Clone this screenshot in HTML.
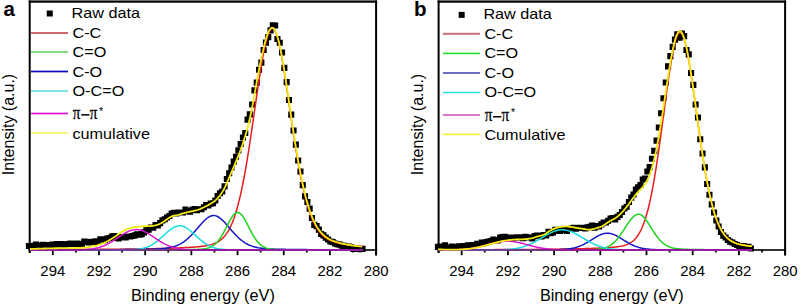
<!DOCTYPE html>
<html><head><meta charset="utf-8"><style>
html,body{margin:0;padding:0;background:#fff;width:800px;height:306px;overflow:hidden}
svg{display:block}
text{font-family:"Liberation Sans", sans-serif;fill:#000}
text.serif{font-family:"Liberation Serif",serif}
</style></head><body>
<svg width="800" height="306" viewBox="0 0 800 306">
<rect x="28.7" y="0.45" width="348.40000000000003" height="2.25" fill="#000"/>
<rect x="28.7" y="0.5" width="2" height="252.5" fill="#000"/>
<rect x="375.1" y="0.5" width="2" height="255" fill="#000"/>
<rect x="28.7" y="249.2" width="348.40000000000003" height="1.6" fill="#000"/>
<rect x="28.80" y="249.5" width="1.8" height="3" fill="#000"/>
<rect x="51.89" y="249.5" width="1.8" height="5.7" fill="#000"/>
<text x="52.79" y="275.9" text-anchor="middle" font-size="14.9">294</text>
<rect x="74.99" y="249.5" width="1.8" height="3" fill="#000"/>
<rect x="98.08" y="249.5" width="1.8" height="5.7" fill="#000"/>
<text x="98.98" y="275.9" text-anchor="middle" font-size="14.9">292</text>
<rect x="121.17" y="249.5" width="1.8" height="3" fill="#000"/>
<rect x="144.27" y="249.5" width="1.8" height="5.7" fill="#000"/>
<text x="145.17" y="275.9" text-anchor="middle" font-size="14.9">290</text>
<rect x="167.36" y="249.5" width="1.8" height="3" fill="#000"/>
<rect x="190.45" y="249.5" width="1.8" height="5.7" fill="#000"/>
<text x="191.35" y="275.9" text-anchor="middle" font-size="14.9">288</text>
<rect x="213.55" y="249.5" width="1.8" height="3" fill="#000"/>
<rect x="236.64" y="249.5" width="1.8" height="5.7" fill="#000"/>
<text x="237.54" y="275.9" text-anchor="middle" font-size="14.9">286</text>
<rect x="259.73" y="249.5" width="1.8" height="3" fill="#000"/>
<rect x="282.83" y="249.5" width="1.8" height="5.7" fill="#000"/>
<text x="283.73" y="275.9" text-anchor="middle" font-size="14.9">284</text>
<rect x="305.92" y="249.5" width="1.8" height="3" fill="#000"/>
<rect x="329.01" y="249.5" width="1.8" height="5.7" fill="#000"/>
<text x="329.91" y="275.9" text-anchor="middle" font-size="14.9">282</text>
<rect x="352.11" y="249.5" width="1.8" height="3" fill="#000"/>
<rect x="375.20" y="249.5" width="1.8" height="5.7" fill="#000"/>
<text x="376.10" y="275.9" text-anchor="middle" font-size="14.9">280</text>
<text x="202.90" y="301.2" text-anchor="middle" font-size="16.3">Binding energy (eV)</text>
<text transform="translate(13.7,124.5) rotate(-90)" x="0" y="0" text-anchor="middle" font-size="16">Intensity (a.u.)</text>
<text x="3.5" y="15.6" font-size="20.5" font-weight="bold">a</text>
<rect x="46.75" y="10.5" width="6" height="6" fill="#000"/>
<g transform="translate(71.5,18.2) scale(1.08,1)"><text x="0" y="0" font-size="15">Raw data</text></g>
<rect x="31.0" y="32.0" width="37.0" height="2" fill="#d06a72"/>
<g transform="translate(72.5,37.6) scale(1.08,1)"><text x="0" y="0" font-size="15">C-C</text></g>
<rect x="31.0" y="51.0" width="37.0" height="2" fill="#7ee07e"/>
<g transform="translate(72.5,57) scale(1.08,1)"><text x="0" y="0" font-size="15">C=O</text></g>
<rect x="31.0" y="70.65" width="37.0" height="1.7" fill="#0a0abf"/>
<g transform="translate(72.5,76.6) scale(1.08,1)"><text x="0" y="0" font-size="15">C-O</text></g>
<rect x="31.0" y="90.0" width="37.0" height="2" fill="#78e6ea"/>
<g transform="translate(72.5,96) scale(1.08,1)"><text x="0" y="0" font-size="15">O-C=O</text></g>
<rect x="31.0" y="112.65" width="37.0" height="1.7" fill="#dc14d2"/>
<g transform="translate(72.8,118.8) scale(0.92,1.08)"><text class="serif" font-size="16.5" stroke="#000" stroke-width="0.25">π</text></g>
<rect x="81.2" y="114.1" width="8.2" height="1.5" fill="#000"/>
<g transform="translate(89.7,118.8) scale(0.92,1.08)"><text class="serif" font-size="16.5" stroke="#000" stroke-width="0.25">π</text></g>
<text x="99.10000000000001" y="114.6" font-size="10.5" fill="#666">*</text>
<rect x="31.0" y="132.0" width="37.0" height="2" fill="#f5f578"/>
<g transform="translate(72.5,138.6) scale(1.08,1)"><text x="0" y="0" font-size="15">cumulative</text></g>
<path d="M25.9 243.0h6.1v6.1h-6.1zM28.2 243.2h6.1v6.1h-6.1zM30.6 242.7h6.1v6.1h-6.1zM32.9 241.6h6.1v6.1h-6.1zM35.2 242.8h6.1v6.1h-6.1zM37.5 242.4h6.1v6.1h-6.1zM39.8 241.7h6.1v6.1h-6.1zM42.1 242.3h6.1v6.1h-6.1zM44.4 242.0h6.1v6.1h-6.1zM46.7 241.9h6.1v6.1h-6.1zM49.0 241.6h6.1v6.1h-6.1zM51.3 241.9h6.1v6.1h-6.1zM53.6 241.0h6.1v6.1h-6.1zM55.9 241.3h6.1v6.1h-6.1zM58.2 241.0h6.1v6.1h-6.1zM60.5 241.6h6.1v6.1h-6.1zM62.8 241.2h6.1v6.1h-6.1zM65.1 240.9h6.1v6.1h-6.1zM67.4 240.6h6.1v6.1h-6.1zM69.7 240.8h6.1v6.1h-6.1zM72.0 240.9h6.1v6.1h-6.1zM74.3 240.6h6.1v6.1h-6.1zM76.6 241.5h6.1v6.1h-6.1zM78.9 241.1h6.1v6.1h-6.1zM81.2 238.6h6.1v6.1h-6.1zM83.5 238.8h6.1v6.1h-6.1zM85.8 239.4h6.1v6.1h-6.1zM88.1 238.9h6.1v6.1h-6.1zM90.4 238.8h6.1v6.1h-6.1zM92.7 238.2h6.1v6.1h-6.1zM95.0 238.9h6.1v6.1h-6.1zM97.3 236.3h6.1v6.1h-6.1zM99.6 236.2h6.1v6.1h-6.1zM101.9 237.2h6.1v6.1h-6.1zM104.2 235.6h6.1v6.1h-6.1zM106.5 234.9h6.1v6.1h-6.1zM108.8 233.6h6.1v6.1h-6.1zM111.1 233.1h6.1v6.1h-6.1zM113.4 235.0h6.1v6.1h-6.1zM115.7 235.3h6.1v6.1h-6.1zM118.0 234.0h6.1v6.1h-6.1zM120.3 234.1h6.1v6.1h-6.1zM122.6 234.4h6.1v6.1h-6.1zM124.9 233.4h6.1v6.1h-6.1zM127.2 233.5h6.1v6.1h-6.1zM129.5 233.0h6.1v6.1h-6.1zM131.8 232.3h6.1v6.1h-6.1zM134.1 231.3h6.1v6.1h-6.1zM136.4 231.6h6.1v6.1h-6.1zM138.7 231.1h6.1v6.1h-6.1zM141.0 229.3h6.1v6.1h-6.1zM143.3 226.8h6.1v6.1h-6.1zM145.6 226.6h6.1v6.1h-6.1zM147.9 224.5h6.1v6.1h-6.1zM150.2 224.7h6.1v6.1h-6.1zM152.5 221.9h6.1v6.1h-6.1zM154.8 222.3h6.1v6.1h-6.1zM157.1 220.1h6.1v6.1h-6.1zM159.4 217.3h6.1v6.1h-6.1zM161.7 216.2h6.1v6.1h-6.1zM164.0 214.5h6.1v6.1h-6.1zM166.3 212.9h6.1v6.1h-6.1zM168.6 210.5h6.1v6.1h-6.1zM170.9 209.7h6.1v6.1h-6.1zM173.2 210.5h6.1v6.1h-6.1zM175.5 209.5h6.1v6.1h-6.1zM177.8 209.5h6.1v6.1h-6.1zM180.1 209.4h6.1v6.1h-6.1zM182.4 206.6h6.1v6.1h-6.1zM184.7 208.0h6.1v6.1h-6.1zM187.0 208.6h6.1v6.1h-6.1zM189.3 206.8h6.1v6.1h-6.1zM191.6 206.0h6.1v6.1h-6.1zM193.9 207.2h6.1v6.1h-6.1zM196.2 206.2h6.1v6.1h-6.1zM198.5 206.2h6.1v6.1h-6.1zM200.8 204.2h6.1v6.1h-6.1zM203.1 202.1h6.1v6.1h-6.1zM205.4 202.3h6.1v6.1h-6.1zM207.7 200.6h6.1v6.1h-6.1zM210.0 200.2h6.1v6.1h-6.1zM212.3 197.5h6.1v6.1h-6.1zM214.6 193.0h6.1v6.1h-6.1zM216.9 190.2h6.1v6.1h-6.1zM219.2 188.5h6.1v6.1h-6.1zM221.5 183.3h6.1v6.1h-6.1zM223.8 175.9h6.1v6.1h-6.1zM226.1 170.2h6.1v6.1h-6.1zM228.4 164.5h6.1v6.1h-6.1zM230.7 158.6h6.1v6.1h-6.1zM233.0 153.7h6.1v6.1h-6.1zM235.3 147.3h6.1v6.1h-6.1zM237.6 141.0h6.1v6.1h-6.1zM239.9 134.5h6.1v6.1h-6.1zM242.2 129.9h6.1v6.1h-6.1zM244.5 116.6h6.1v6.1h-6.1zM246.8 111.3h6.1v6.1h-6.1zM249.1 101.4h6.1v6.1h-6.1zM251.4 87.3h6.1v6.1h-6.1zM253.7 79.6h6.1v6.1h-6.1zM256.0 66.7h6.1v6.1h-6.1zM258.3 59.6h6.1v6.1h-6.1zM260.6 46.9h6.1v6.1h-6.1zM262.9 39.6h6.1v6.1h-6.1zM265.2 34.1h6.1v6.1h-6.1zM267.5 27.3h6.1v6.1h-6.1zM269.8 22.3h6.1v6.1h-6.1zM272.1 22.4h6.1v6.1h-6.1zM274.4 36.0h6.1v6.1h-6.1zM276.7 39.7h6.1v6.1h-6.1zM279.0 49.5h6.1v6.1h-6.1zM281.3 64.8h6.1v6.1h-6.1zM283.6 79.1h6.1v6.1h-6.1zM285.9 97.0h6.1v6.1h-6.1zM288.2 111.6h6.1v6.1h-6.1zM290.5 127.4h6.1v6.1h-6.1zM292.8 141.6h6.1v6.1h-6.1zM295.1 157.5h6.1v6.1h-6.1zM297.4 168.4h6.1v6.1h-6.1zM299.7 182.1h6.1v6.1h-6.1zM302.0 193.3h6.1v6.1h-6.1zM304.3 198.9h6.1v6.1h-6.1zM306.6 205.6h6.1v6.1h-6.1zM308.9 214.9h6.1v6.1h-6.1zM311.2 221.8h6.1v6.1h-6.1zM313.5 223.1h6.1v6.1h-6.1zM315.8 226.6h6.1v6.1h-6.1zM318.1 230.9h6.1v6.1h-6.1zM320.4 232.3h6.1v6.1h-6.1zM322.7 234.6h6.1v6.1h-6.1zM325.0 236.4h6.1v6.1h-6.1zM327.3 238.5h6.1v6.1h-6.1zM329.6 239.0h6.1v6.1h-6.1zM331.9 240.5h6.1v6.1h-6.1zM334.2 241.2h6.1v6.1h-6.1zM336.5 241.6h6.1v6.1h-6.1zM338.8 242.6h6.1v6.1h-6.1zM341.1 242.8h6.1v6.1h-6.1zM343.4 243.9h6.1v6.1h-6.1zM345.7 243.6h6.1v6.1h-6.1zM348.0 244.0h6.1v6.1h-6.1zM350.3 246.0h6.1v6.1h-6.1zM352.6 245.3h6.1v6.1h-6.1zM354.9 245.6h6.1v6.1h-6.1zM357.2 246.2h6.1v6.1h-6.1zM359.5 245.8h6.1v6.1h-6.1z" fill="#000"/>
<polyline points="30,249.67 31,249.67 32,249.67 33,249.67 34,249.66 35,249.66 36,249.66 37,249.65 38,249.65 39,249.65 40,249.65 41,249.64 42,249.64 43,249.64 44,249.63 45,249.63 46,249.63 47,249.62 48,249.62 49,249.62 50,249.61 51,249.61 52,249.61 53,249.60 54,249.60 55,249.60 56,249.59 57,249.59 58,249.58 59,249.58 60,249.58 61,249.57 62,249.57 63,249.56 64,249.56 65,249.56 66,249.55 67,249.55 68,249.54 69,249.54 70,249.53 71,249.53 72,249.53 73,249.52 74,249.52 75,249.51 76,249.51 77,249.50 78,249.50 79,249.49 80,249.49 81,249.48 82,249.47 83,249.47 84,249.46 85,249.46 86,249.45 87,249.45 88,249.44 89,249.43 90,249.43 91,249.42 92,249.42 93,249.41 94,249.40 95,249.40 96,249.39 97,249.38 98,249.38 99,249.37 100,249.36 101,249.35 102,249.35 103,249.34 104,249.33 105,249.32 106,249.32 107,249.31 108,249.30 109,249.29 110,249.28 111,249.27 112,249.26 113,249.25 114,249.25 115,249.24 116,249.23 117,249.22 118,249.21 119,249.20 120,249.19 121,249.18 122,249.16 123,249.15 124,249.14 125,249.13 126,249.12 127,249.11 128,249.10 129,249.08 130,249.07 131,249.06 132,249.04 133,249.03 134,249.02 135,249.00 136,248.99 137,248.97 138,248.96 139,248.94 140,248.93 141,248.91 142,248.90 143,248.88 144,248.86 145,248.85 146,248.83 147,248.81 148,248.79 149,248.77 150,248.75 151,248.73 152,248.71 153,248.69 154,248.67 155,248.65 156,248.62 157,248.60 158,248.58 159,248.55 160,248.53 161,248.50 162,248.48 163,248.45 164,248.42 165,248.39 166,248.37 167,248.34 168,248.30 169,248.27 170,248.24 171,248.21 172,248.17 173,248.14 174,248.10 175,248.06 176,248.03 177,247.99 178,247.95 179,247.90 180,247.86 181,247.82 182,247.77 183,247.72 184,247.67 185,247.62 186,247.57 187,247.51 188,247.46 189,247.40 190,247.34 191,247.27 192,247.21 193,247.14 194,247.06 195,246.99 196,246.90 197,246.82 198,246.73 199,246.63 200,246.53 201,246.42 202,246.30 203,246.18 204,246.04 205,245.89 206,245.73 207,245.55 208,245.36 209,245.14 210,244.90 211,244.64 212,244.35 213,244.03 214,243.67 215,243.27 216,242.83 217,242.33 218,241.77 219,241.16 220,240.47 221,239.70 222,238.84 223,237.89 224,236.83 225,235.66 226,234.36 227,232.93 228,231.35 229,229.61 230,227.71 231,225.62 232,223.34 233,220.86 234,218.16 235,215.25 236,212.10 237,208.71 238,205.07 239,201.18 240,197.03 241,192.62 242,187.95 243,183.01 244,177.83 245,172.39 246,166.72 247,160.81 248,154.69 249,148.38 250,141.89 251,135.25 252,128.48 253,121.62 254,114.69 255,107.74 256,100.80 257,93.92 258,87.12 259,80.47 260,74.01 261,67.78 262,61.85 263,56.24 264,51.03 265,46.25 266,41.96 267,38.19 268,35.00 269,32.41 270,30.46 271,29.17 272,28.55 273,28.63 274,29.43 275,30.93 276,33.13 277,35.98 278,39.45 279,43.49 280,48.06 281,53.10 282,58.55 283,64.35 284,70.46 285,76.81 286,83.36 287,90.05 288,96.84 289,103.68 290,110.53 291,117.35 292,124.11 293,130.77 294,137.31 295,143.71 296,149.93 297,155.96 298,161.78 299,167.39 300,172.76 301,177.90 302,182.79 303,187.43 304,191.82 305,195.96 306,199.86 307,203.51 308,206.92 309,210.11 310,213.07 311,215.82 312,218.36 313,220.71 314,222.87 315,224.85 316,226.67 317,228.34 318,229.87 319,231.26 320,232.52 321,233.68 322,234.73 323,235.68 324,236.55 325,237.34 326,238.05 327,238.70 328,239.30 329,239.83 330,240.32 331,240.77 332,241.18 333,241.56 334,241.90 335,242.22 336,242.51 337,242.78 338,243.03 339,243.26 340,243.48 341,243.68 342,243.87 343,244.05 344,244.22 345,244.38 346,244.53 347,244.68 348,244.82 349,244.95 350,245.07 351,245.19 352,245.31 353,245.42 354,245.52 355,245.63 356,245.73 357,245.82 358,245.91 359,246.00 360,246.09 361,246.17 362,246.25 363,246.33" fill="none" stroke="#e81c1c" stroke-width="1.5"/>
<polyline points="30,249.90 31,249.90 32,249.90 33,249.90 34,249.89 35,249.89 36,249.89 37,249.89 38,249.89 39,249.89 40,249.89 41,249.89 42,249.88 43,249.88 44,249.88 45,249.88 46,249.88 47,249.88 48,249.88 49,249.87 50,249.87 51,249.87 52,249.87 53,249.87 54,249.87 55,249.86 56,249.86 57,249.86 58,249.86 59,249.86 60,249.86 61,249.85 62,249.85 63,249.85 64,249.85 65,249.85 66,249.84 67,249.84 68,249.84 69,249.84 70,249.84 71,249.83 72,249.83 73,249.83 74,249.83 75,249.82 76,249.82 77,249.82 78,249.82 79,249.81 80,249.81 81,249.81 82,249.81 83,249.80 84,249.80 85,249.80 86,249.79 87,249.79 88,249.79 89,249.78 90,249.78 91,249.78 92,249.77 93,249.77 94,249.77 95,249.76 96,249.76 97,249.75 98,249.75 99,249.75 100,249.74 101,249.74 102,249.73 103,249.73 104,249.72 105,249.72 106,249.71 107,249.71 108,249.70 109,249.70 110,249.69 111,249.68 112,249.68 113,249.67 114,249.67 115,249.66 116,249.65 117,249.65 118,249.64 119,249.63 120,249.62 121,249.62 122,249.61 123,249.60 124,249.59 125,249.58 126,249.57 127,249.56 128,249.55 129,249.54 130,249.53 131,249.52 132,249.51 133,249.50 134,249.49 135,249.47 136,249.46 137,249.45 138,249.43 139,249.42 140,249.40 141,249.39 142,249.37 143,249.35 144,249.34 145,249.32 146,249.30 147,249.27 148,249.25 149,249.23 150,249.20 151,249.17 152,249.14 153,249.11 154,249.07 155,249.03 156,248.99 157,248.94 158,248.89 159,248.83 160,248.77 161,248.70 162,248.62 163,248.53 164,248.43 165,248.32 166,248.20 167,248.06 168,247.90 169,247.73 170,247.54 171,247.33 172,247.09 173,246.83 174,246.54 175,246.22 176,245.86 177,245.48 178,245.05 179,244.59 180,244.09 181,243.54 182,242.95 183,242.31 184,241.63 185,240.90 186,240.12 187,239.29 188,238.42 189,237.50 190,236.54 191,235.53 192,234.49 193,233.41 194,232.30 195,231.17 196,230.01 197,228.84 198,227.67 199,226.49 200,225.32 201,224.17 202,223.05 203,221.97 204,220.93 205,219.96 206,219.05 207,218.23 208,217.50 209,216.86 210,216.35 211,215.94 212,215.67 213,215.52 214,215.51 215,215.63 216,215.88 217,216.26 218,216.75 219,217.36 220,218.07 221,218.88 222,219.77 223,220.73 224,221.76 225,222.83 226,223.95 227,225.09 228,226.26 229,227.43 230,228.61 231,229.78 232,230.94 233,232.08 234,233.19 235,234.28 236,235.33 237,236.34 238,237.31 239,238.24 240,239.12 241,239.96 242,240.74 243,241.49 244,242.18 245,242.82 246,243.42 247,243.98 248,244.49 249,244.96 250,245.40 251,245.79 252,246.15 253,246.48 254,246.77 255,247.04 256,247.28 257,247.50 258,247.70 259,247.87 260,248.03 261,248.17 262,248.30 263,248.41 264,248.51 265,248.60 266,248.68 267,248.75 268,248.82 269,248.88 270,248.93 271,248.98 272,249.02 273,249.06 274,249.10 275,249.14 276,249.17 277,249.19 278,249.22 279,249.25 280,249.27 281,249.29 282,249.31 283,249.33 284,249.35 285,249.37 286,249.39 287,249.40 288,249.42 289,249.43 290,249.45 291,249.46 292,249.47 293,249.48 294,249.50 295,249.51 296,249.52 297,249.53 298,249.54 299,249.55 300,249.56 301,249.57 302,249.58 303,249.59 304,249.60 305,249.61 306,249.61 307,249.62 308,249.63 309,249.64 310,249.64 311,249.65 312,249.66 313,249.66 314,249.67 315,249.68 316,249.68 317,249.69 318,249.69 319,249.70 320,249.71 321,249.71 322,249.72 323,249.72 324,249.73 325,249.73 326,249.74 327,249.74 328,249.74 329,249.75 330,249.75 331,249.76 332,249.76 333,249.76 334,249.77 335,249.77 336,249.78 337,249.78 338,249.78 339,249.79 340,249.79 341,249.79 342,249.80 343,249.80 344,249.80 345,249.80 346,249.81 347,249.81 348,249.81 349,249.82 350,249.82 351,249.82 352,249.82 353,249.83 354,249.83 355,249.83 356,249.83 357,249.84 358,249.84 359,249.84 360,249.84 361,249.84 362,249.85 363,249.85" fill="none" stroke="#1414c8" stroke-width="1.5"/>
<polyline points="30,249.98 31,249.98 32,249.98 33,249.98 34,249.98 35,249.98 36,249.98 37,249.98 38,249.98 39,249.97 40,249.97 41,249.97 42,249.97 43,249.97 44,249.97 45,249.97 46,249.97 47,249.97 48,249.97 49,249.97 50,249.97 51,249.97 52,249.97 53,249.97 54,249.97 55,249.97 56,249.97 57,249.97 58,249.97 59,249.97 60,249.97 61,249.97 62,249.97 63,249.97 64,249.97 65,249.97 66,249.97 67,249.97 68,249.97 69,249.97 70,249.96 71,249.96 72,249.96 73,249.96 74,249.96 75,249.96 76,249.96 77,249.96 78,249.96 79,249.96 80,249.96 81,249.96 82,249.96 83,249.96 84,249.96 85,249.96 86,249.96 87,249.96 88,249.96 89,249.96 90,249.95 91,249.95 92,249.95 93,249.95 94,249.95 95,249.95 96,249.95 97,249.95 98,249.95 99,249.95 100,249.95 101,249.95 102,249.95 103,249.95 104,249.94 105,249.94 106,249.94 107,249.94 108,249.94 109,249.94 110,249.94 111,249.94 112,249.94 113,249.94 114,249.94 115,249.93 116,249.93 117,249.93 118,249.93 119,249.93 120,249.93 121,249.93 122,249.93 123,249.93 124,249.92 125,249.92 126,249.92 127,249.92 128,249.92 129,249.92 130,249.92 131,249.91 132,249.91 133,249.91 134,249.91 135,249.91 136,249.91 137,249.90 138,249.90 139,249.90 140,249.90 141,249.90 142,249.89 143,249.89 144,249.89 145,249.89 146,249.88 147,249.88 148,249.88 149,249.88 150,249.87 151,249.87 152,249.87 153,249.86 154,249.86 155,249.86 156,249.85 157,249.85 158,249.85 159,249.84 160,249.84 161,249.84 162,249.83 163,249.83 164,249.82 165,249.82 166,249.81 167,249.81 168,249.80 169,249.80 170,249.79 171,249.78 172,249.78 173,249.77 174,249.76 175,249.76 176,249.75 177,249.74 178,249.73 179,249.72 180,249.72 181,249.71 182,249.70 183,249.68 184,249.67 185,249.66 186,249.65 187,249.64 188,249.62 189,249.61 190,249.59 191,249.57 192,249.55 193,249.53 194,249.50 195,249.47 196,249.44 197,249.40 198,249.36 199,249.31 200,249.25 201,249.18 202,249.09 203,248.98 204,248.86 205,248.70 206,248.52 207,248.29 208,248.03 209,247.71 210,247.33 211,246.88 212,246.36 213,245.75 214,245.05 215,244.25 216,243.33 217,242.30 218,241.15 219,239.88 220,238.49 221,236.97 222,235.35 223,233.62 224,231.81 225,229.92 226,227.99 227,226.04 228,224.09 229,222.18 230,220.34 231,218.61 232,217.03 233,215.64 234,214.46 235,213.54 236,212.90 237,212.56 238,212.52 239,212.80 240,213.37 241,214.22 242,215.34 243,216.67 244,218.21 245,219.90 246,221.72 247,223.63 248,225.58 249,227.56 250,229.52 251,231.44 252,233.30 253,235.07 254,236.75 255,238.31 256,239.76 257,241.08 258,242.27 259,243.35 260,244.30 261,245.14 262,245.87 263,246.50 264,247.04 265,247.50 266,247.89 267,248.22 268,248.49 269,248.72 270,248.91 271,249.06 272,249.19 273,249.29 274,249.37 275,249.44 276,249.49 277,249.54 278,249.58 279,249.61 280,249.63 281,249.66 282,249.68 283,249.69 284,249.71 285,249.72 286,249.73 287,249.74 288,249.75 289,249.76 290,249.77 291,249.78 292,249.79 293,249.80 294,249.80 295,249.81 296,249.82 297,249.82 298,249.83 299,249.83 300,249.84 301,249.84 302,249.85 303,249.85 304,249.86 305,249.86 306,249.86 307,249.87 308,249.87 309,249.87 310,249.88 311,249.88 312,249.88 313,249.89 314,249.89 315,249.89 316,249.90 317,249.90 318,249.90 319,249.90 320,249.90 321,249.91 322,249.91 323,249.91 324,249.91 325,249.92 326,249.92 327,249.92 328,249.92 329,249.92 330,249.92 331,249.93 332,249.93 333,249.93 334,249.93 335,249.93 336,249.93 337,249.93 338,249.94 339,249.94 340,249.94 341,249.94 342,249.94 343,249.94 344,249.94 345,249.94 346,249.94 347,249.95 348,249.95 349,249.95 350,249.95 351,249.95 352,249.95 353,249.95 354,249.95 355,249.95 356,249.95 357,249.95 358,249.95 359,249.96 360,249.96 361,249.96 362,249.96 363,249.96" fill="none" stroke="#1ed21e" stroke-width="1.5"/>
<polyline points="30,250.00 31,250.00 32,250.00 33,250.00 34,250.00 35,250.00 36,250.00 37,250.00 38,250.00 39,250.00 40,250.00 41,250.00 42,250.00 43,250.00 44,250.00 45,250.00 46,250.00 47,250.00 48,250.00 49,250.00 50,250.00 51,250.00 52,250.00 53,250.00 54,250.00 55,250.00 56,250.00 57,250.00 58,250.00 59,250.00 60,250.00 61,250.00 62,250.00 63,250.00 64,250.00 65,250.00 66,250.00 67,250.00 68,250.00 69,250.00 70,250.00 71,250.00 72,250.00 73,250.00 74,250.00 75,250.00 76,250.00 77,250.00 78,250.00 79,250.00 80,250.00 81,250.00 82,250.00 83,250.00 84,250.00 85,250.00 86,250.00 87,250.00 88,250.00 89,250.00 90,250.00 91,250.00 92,250.00 93,250.00 94,250.00 95,250.00 96,250.00 97,250.00 98,250.00 99,250.00 100,250.00 101,250.00 102,250.00 103,250.00 104,250.00 105,250.00 106,250.00 107,250.00 108,250.00 109,250.00 110,250.00 111,250.00 112,250.00 113,250.00 114,250.00 115,249.99 116,249.99 117,249.99 118,249.99 119,249.98 120,249.98 121,249.98 122,249.97 123,249.96 124,249.95 125,249.94 126,249.92 127,249.91 128,249.88 129,249.86 130,249.82 131,249.79 132,249.74 133,249.69 134,249.62 135,249.55 136,249.46 137,249.36 138,249.24 139,249.11 140,248.95 141,248.78 142,248.58 143,248.35 144,248.09 145,247.80 146,247.48 147,247.12 148,246.73 149,246.29 150,245.82 151,245.30 152,244.74 153,244.14 154,243.49 155,242.80 156,242.07 157,241.30 158,240.50 159,239.66 160,238.79 161,237.90 162,236.99 163,236.07 164,235.14 165,234.21 166,233.29 167,232.39 168,231.52 169,230.68 170,229.88 171,229.13 172,228.44 173,227.82 174,227.27 175,226.80 176,226.42 177,226.13 178,225.92 179,225.82 180,225.81 181,225.89 182,226.08 183,226.35 184,226.72 185,227.17 186,227.71 187,228.31 188,228.99 189,229.73 190,230.51 191,231.35 192,232.22 193,233.11 194,234.03 195,234.95 196,235.88 197,236.81 198,237.72 199,238.61 200,239.49 201,240.33 202,241.14 203,241.92 204,242.66 205,243.36 206,244.01 207,244.62 208,245.19 209,245.72 210,246.20 211,246.64 212,247.05 213,247.41 214,247.74 215,248.03 216,248.30 217,248.53 218,248.74 219,248.92 220,249.08 221,249.22 222,249.34 223,249.44 224,249.53 225,249.61 226,249.68 227,249.73 228,249.78 229,249.82 230,249.85 231,249.88 232,249.90 233,249.92 234,249.94 235,249.95 236,249.96 237,249.97 238,249.97 239,249.98 240,249.98 241,249.99 242,249.99 243,249.99 244,249.99 245,250.00 246,250.00 247,250.00 248,250.00 249,250.00 250,250.00 251,250.00 252,250.00 253,250.00 254,250.00 255,250.00 256,250.00 257,250.00 258,250.00 259,250.00 260,250.00 261,250.00 262,250.00 263,250.00 264,250.00 265,250.00 266,250.00 267,250.00 268,250.00 269,250.00 270,250.00 271,250.00 272,250.00 273,250.00 274,250.00 275,250.00 276,250.00 277,250.00 278,250.00 279,250.00 280,250.00 281,250.00 282,250.00 283,250.00 284,250.00 285,250.00 286,250.00 287,250.00 288,250.00 289,250.00 290,250.00 291,250.00 292,250.00 293,250.00 294,250.00 295,250.00 296,250.00 297,250.00 298,250.00 299,250.00 300,250.00 301,250.00 302,250.00 303,250.00 304,250.00 305,250.00 306,250.00 307,250.00 308,250.00 309,250.00 310,250.00 311,250.00 312,250.00 313,250.00 314,250.00 315,250.00 316,250.00 317,250.00 318,250.00 319,250.00 320,250.00 321,250.00 322,250.00 323,250.00 324,250.00 325,250.00 326,250.00 327,250.00 328,250.00 329,250.00 330,250.00 331,250.00 332,250.00 333,250.00 334,250.00 335,250.00 336,250.00 337,250.00 338,250.00 339,250.00 340,250.00 341,250.00 342,250.00 343,250.00 344,250.00 345,250.00 346,250.00 347,250.00 348,250.00 349,250.00 350,250.00 351,250.00 352,250.00 353,250.00 354,250.00 355,250.00 356,250.00 357,250.00 358,250.00 359,250.00 360,250.00 361,250.00 362,250.00 363,250.00" fill="none" stroke="#14dcdc" stroke-width="1.5"/>
<polyline points="30,250.00 31,250.00 32,250.00 33,250.00 34,250.00 35,250.00 36,250.00 37,250.00 38,250.00 39,250.00 40,250.00 41,250.00 42,250.00 43,250.00 44,250.00 45,250.00 46,250.00 47,250.00 48,250.00 49,250.00 50,250.00 51,250.00 52,250.00 53,250.00 54,250.00 55,250.00 56,250.00 57,250.00 58,250.00 59,250.00 60,250.00 61,250.00 62,249.99 63,249.99 64,249.99 65,249.99 66,249.99 67,249.98 68,249.98 69,249.98 70,249.97 71,249.97 72,249.96 73,249.95 74,249.94 75,249.93 76,249.91 77,249.89 78,249.87 79,249.85 80,249.82 81,249.79 82,249.75 83,249.71 84,249.66 85,249.60 86,249.53 87,249.46 88,249.37 89,249.28 90,249.17 91,249.05 92,248.91 93,248.76 94,248.59 95,248.40 96,248.19 97,247.96 98,247.71 99,247.44 100,247.14 101,246.82 102,246.47 103,246.09 104,245.69 105,245.26 106,244.80 107,244.32 108,243.81 109,243.27 110,242.71 111,242.13 112,241.52 113,240.90 114,240.26 115,239.60 116,238.94 117,238.26 118,237.59 119,236.91 120,236.24 121,235.57 122,234.92 123,234.29 124,233.68 125,233.10 126,232.55 127,232.03 128,231.56 129,231.13 130,230.74 131,230.41 132,230.13 133,229.91 134,229.75 135,229.64 136,229.60 137,229.62 138,229.70 139,229.84 140,230.04 141,230.29 142,230.60 143,230.97 144,231.38 145,231.84 146,232.34 147,232.87 148,233.44 149,234.04 150,234.67 151,235.31 152,235.97 153,236.64 154,237.31 155,237.99 156,238.67 157,239.34 158,240.00 159,240.64 160,241.28 161,241.89 162,242.48 163,243.05 164,243.60 165,244.12 166,244.61 167,245.08 168,245.52 169,245.94 170,246.32 171,246.68 172,247.01 173,247.32 174,247.61 175,247.87 176,248.10 177,248.32 178,248.51 179,248.69 180,248.85 181,248.99 182,249.12 183,249.24 184,249.34 185,249.43 186,249.51 187,249.57 188,249.64 189,249.69 190,249.73 191,249.77 192,249.81 193,249.84 194,249.86 195,249.89 196,249.90 197,249.92 198,249.93 199,249.94 200,249.95 201,249.96 202,249.97 203,249.97 204,249.98 205,249.98 206,249.99 207,249.99 208,249.99 209,249.99 210,249.99 211,250.00 212,250.00 213,250.00 214,250.00 215,250.00 216,250.00 217,250.00 218,250.00 219,250.00 220,250.00 221,250.00 222,250.00 223,250.00 224,250.00 225,250.00 226,250.00 227,250.00 228,250.00 229,250.00 230,250.00 231,250.00 232,250.00 233,250.00 234,250.00 235,250.00 236,250.00 237,250.00 238,250.00 239,250.00 240,250.00 241,250.00 242,250.00 243,250.00 244,250.00 245,250.00 246,250.00 247,250.00 248,250.00 249,250.00 250,250.00 251,250.00 252,250.00 253,250.00 254,250.00 255,250.00 256,250.00 257,250.00 258,250.00 259,250.00 260,250.00 261,250.00 262,250.00 263,250.00 264,250.00 265,250.00 266,250.00 267,250.00 268,250.00 269,250.00 270,250.00 271,250.00 272,250.00 273,250.00 274,250.00 275,250.00 276,250.00 277,250.00 278,250.00 279,250.00 280,250.00 281,250.00 282,250.00 283,250.00 284,250.00 285,250.00 286,250.00 287,250.00 288,250.00 289,250.00 290,250.00 291,250.00 292,250.00 293,250.00 294,250.00 295,250.00 296,250.00 297,250.00 298,250.00 299,250.00 300,250.00 301,250.00 302,250.00 303,250.00 304,250.00 305,250.00 306,250.00 307,250.00 308,250.00 309,250.00 310,250.00 311,250.00 312,250.00 313,250.00 314,250.00 315,250.00 316,250.00 317,250.00 318,250.00 319,250.00 320,250.00 321,250.00 322,250.00 323,250.00 324,250.00 325,250.00 326,250.00 327,250.00 328,250.00 329,250.00 330,250.00 331,250.00 332,250.00 333,250.00 334,250.00 335,250.00 336,250.00 337,250.00 338,250.00 339,250.00 340,250.00 341,250.00 342,250.00 343,250.00 344,250.00 345,250.00 346,250.00 347,250.00 348,250.00 349,250.00 350,250.00 351,250.00 352,250.00 353,250.00 354,250.00 355,250.00 356,250.00 357,250.00 358,250.00 359,250.00 360,250.00 361,250.00 362,250.00 363,250.00" fill="none" stroke="#dc14d2" stroke-width="1.5"/>
<rect x="30" y="249.1" width="333" height="1.7" fill="#8a1492" opacity="0.9"/>
<polyline points="30,249.01 31,248.97 32,248.93 33,248.90 34,248.86 35,248.82 36,248.78 37,248.75 38,248.71 39,248.67 40,248.64 41,248.61 42,248.57 43,248.54 44,248.51 45,248.48 46,248.45 47,248.42 48,248.40 49,248.37 50,248.35 51,248.33 52,248.31 53,248.29 54,248.27 55,248.25 56,248.24 57,248.23 58,248.22 59,248.21 60,248.20 61,248.19 62,248.18 63,248.18 64,248.17 65,248.16 66,248.15 67,248.14 68,248.13 69,248.12 70,248.11 71,248.09 72,248.08 73,248.06 74,248.04 75,248.02 76,248.00 77,247.98 78,247.95 79,247.91 80,247.88 81,247.83 82,247.77 83,247.70 84,247.62 85,247.52 86,247.41 87,247.28 88,247.15 89,247.00 90,246.83 91,246.65 92,246.46 93,246.26 94,246.04 95,245.80 96,245.55 97,245.29 98,245.00 99,244.71 100,244.39 101,244.05 102,243.69 103,243.30 104,242.89 105,242.44 106,241.97 107,241.47 108,240.95 109,240.40 110,239.82 111,239.22 112,238.60 113,237.96 114,237.30 115,236.63 116,235.94 117,235.25 118,234.55 119,233.85 120,233.16 121,232.48 122,231.85 123,231.25 124,230.69 125,230.17 126,229.69 127,229.26 128,228.86 129,228.50 130,228.18 131,227.89 132,227.64 133,227.42 134,227.23 135,227.06 136,226.92 137,226.79 138,226.68 139,226.58 140,226.50 141,226.44 142,226.38 143,226.34 144,226.31 145,226.28 146,226.25 147,226.22 148,226.19 149,226.14 150,226.09 151,226.02 152,225.93 153,225.81 154,225.65 155,225.45 156,225.19 157,224.89 158,224.54 159,224.15 160,223.70 161,223.21 162,222.65 163,222.04 164,221.40 165,220.72 166,220.03 167,219.32 168,218.62 169,217.93 170,217.27 171,216.70 172,216.26 173,215.92 174,215.66 175,215.46 176,215.28 177,215.11 178,214.91 179,214.66 180,214.32 181,213.95 182,213.61 183,213.31 184,213.03 185,212.78 186,212.55 187,212.33 188,212.12 189,211.92 190,211.71 191,211.50 192,211.27 193,211.04 194,210.81 195,210.58 196,210.33 197,210.06 198,209.76 199,209.42 200,209.04 201,208.63 202,208.20 203,207.75 204,207.28 205,206.79 206,206.28 207,205.76 208,205.22 209,204.66 210,204.09 211,203.48 212,202.85 213,202.18 214,201.46 215,200.68 216,199.82 217,198.88 218,197.85 219,196.70 220,195.44 221,194.05 222,192.52 223,190.85 224,189.04 225,187.09 226,185.01 227,182.80 228,180.47 229,178.10 230,175.73 231,173.36 232,170.99 233,168.62 234,166.25 235,163.88 236,161.50 237,159.10 238,156.66 239,154.14 240,151.50 241,148.77 242,145.97 243,143.06 244,140.02 245,136.83 246,133.45 247,129.88 248,126.08 249,122.06 250,117.80 251,113.19 252,108.16 253,102.82 254,97.27 255,91.62 256,85.99 257,80.49 258,75.18 259,70.01 260,64.99 261,60.13 262,55.43 263,50.91 264,46.58 265,42.53 266,38.89 267,35.69 268,32.99 269,30.82 270,29.21 271,28.19 272,27.76 273,27.95 274,28.78 275,30.26 276,32.38 277,35.12 278,38.45 279,42.33 280,46.73 281,51.60 282,56.90 283,62.59 284,68.60 285,74.90 286,81.43 287,88.09 288,94.85 289,101.67 290,108.50 291,115.30 292,122.04 293,128.68 294,135.21 295,141.59 296,147.81 297,153.84 298,159.66 299,165.27 300,170.66 301,175.81 302,180.72 303,185.38 304,189.80 305,193.97 306,197.90 307,201.59 308,205.04 309,208.26 310,211.27 311,214.06 312,216.64 313,219.03 314,221.24 315,223.28 316,225.15 317,226.86 318,228.44 319,229.88 320,231.20 321,232.40 322,233.50 323,234.51 324,235.42 325,236.26 326,237.02 327,237.72 328,238.36 329,238.94 330,239.47 331,239.95 332,240.40 333,240.82 334,241.20 335,241.56 336,241.90 337,242.21 338,242.51 339,242.79 340,243.06 341,243.31 342,243.54 343,243.77 344,243.99 345,244.19 346,244.39 347,244.58 348,244.76 349,244.93 350,245.10 351,245.26 352,245.41 353,245.55 354,245.69 355,245.82 356,245.95 357,246.06 358,246.18 359,246.28 360,246.38 361,246.47 362,246.56" fill="none" stroke="#f4ea10" stroke-width="1.8"/>
<rect x="437.6" y="0.45" width="348.5" height="2.25" fill="#000"/>
<rect x="437.6" y="0.5" width="2" height="252.5" fill="#000"/>
<rect x="784.1" y="0.5" width="2" height="255" fill="#000"/>
<rect x="437.6" y="249.2" width="348.5" height="1.6" fill="#000"/>
<rect x="437.70" y="249.5" width="1.8" height="3" fill="#000"/>
<rect x="460.80" y="249.5" width="1.8" height="5.7" fill="#000"/>
<text x="461.70" y="275.9" text-anchor="middle" font-size="14.9">294</text>
<rect x="483.90" y="249.5" width="1.8" height="3" fill="#000"/>
<rect x="507.00" y="249.5" width="1.8" height="5.7" fill="#000"/>
<text x="507.90" y="275.9" text-anchor="middle" font-size="14.9">292</text>
<rect x="530.10" y="249.5" width="1.8" height="3" fill="#000"/>
<rect x="553.20" y="249.5" width="1.8" height="5.7" fill="#000"/>
<text x="554.10" y="275.9" text-anchor="middle" font-size="14.9">290</text>
<rect x="576.30" y="249.5" width="1.8" height="3" fill="#000"/>
<rect x="599.40" y="249.5" width="1.8" height="5.7" fill="#000"/>
<text x="600.30" y="275.9" text-anchor="middle" font-size="14.9">288</text>
<rect x="622.50" y="249.5" width="1.8" height="3" fill="#000"/>
<rect x="645.60" y="249.5" width="1.8" height="5.7" fill="#000"/>
<text x="646.50" y="275.9" text-anchor="middle" font-size="14.9">286</text>
<rect x="668.70" y="249.5" width="1.8" height="3" fill="#000"/>
<rect x="691.80" y="249.5" width="1.8" height="5.7" fill="#000"/>
<text x="692.70" y="275.9" text-anchor="middle" font-size="14.9">284</text>
<rect x="714.90" y="249.5" width="1.8" height="3" fill="#000"/>
<rect x="738.00" y="249.5" width="1.8" height="5.7" fill="#000"/>
<text x="738.90" y="275.9" text-anchor="middle" font-size="14.9">282</text>
<rect x="761.10" y="249.5" width="1.8" height="3" fill="#000"/>
<rect x="784.20" y="249.5" width="1.8" height="5.7" fill="#000"/>
<text x="785.10" y="275.9" text-anchor="middle" font-size="14.9">280</text>
<text x="611.85" y="301.2" text-anchor="middle" font-size="16.3">Binding energy (eV)</text>
<text transform="translate(422.6,124.5) rotate(-90)" x="0" y="0" text-anchor="middle" font-size="16">Intensity (a.u.)</text>
<text x="414.0" y="16.1" font-size="20.5" font-weight="bold">b</text>
<rect x="458.65000000000003" y="11.85" width="6" height="6" fill="#000"/>
<g transform="translate(483.40000000000003,19.4) scale(1.08,1)"><text x="0" y="0" font-size="15">Raw data</text></g>
<rect x="442.90000000000003" y="32.8" width="37.0" height="2" fill="#cd6e78"/>
<g transform="translate(484.40000000000003,38.800000000000004) scale(1.08,1)"><text x="0" y="0" font-size="15">C-C</text></g>
<rect x="442.90000000000003" y="52.6" width="37.0" height="1.6" fill="#28dc28"/>
<g transform="translate(484.40000000000003,58.2) scale(1.08,1)"><text x="0" y="0" font-size="15">C=O</text></g>
<rect x="442.90000000000003" y="72.0" width="37.0" height="2" fill="#6e6ebe"/>
<g transform="translate(484.40000000000003,77.8) scale(1.08,1)"><text x="0" y="0" font-size="15">C-O</text></g>
<rect x="442.90000000000003" y="91.75" width="37.0" height="1.5" fill="#28e1e1"/>
<g transform="translate(484.40000000000003,97.2) scale(1.08,1)"><text x="0" y="0" font-size="15">O-C=O</text></g>
<rect x="442.90000000000003" y="114.0" width="37.0" height="2" fill="#d778d2"/>
<g transform="translate(484.70000000000005,120.7) scale(0.92,1.08)"><text class="serif" font-size="16.5" stroke="#000" stroke-width="0.25">π</text></g>
<rect x="493.1" y="116.0" width="8.2" height="1.5" fill="#000"/>
<g transform="translate(501.6,120.7) scale(0.92,1.08)"><text class="serif" font-size="16.5" stroke="#000" stroke-width="0.25">π</text></g>
<text x="511.0" y="115.8" font-size="10.5" fill="#666">*</text>
<rect x="442.90000000000003" y="133.6" width="37.0" height="1.6" fill="#f5f028"/>
<g transform="translate(484.40000000000003,139.79999999999998) scale(1.08,1)"><text x="0" y="0" font-size="15">Cumulative</text></g>
<path d="M434.9 243.8h6.1v6.1h-6.1zM437.2 243.4h6.1v6.1h-6.1zM439.6 243.5h6.1v6.1h-6.1zM441.9 242.3h6.1v6.1h-6.1zM444.2 244.9h6.1v6.1h-6.1zM446.5 244.5h6.1v6.1h-6.1zM448.8 243.6h6.1v6.1h-6.1zM451.1 244.2h6.1v6.1h-6.1zM453.4 243.9h6.1v6.1h-6.1zM455.7 243.3h6.1v6.1h-6.1zM458.0 244.1h6.1v6.1h-6.1zM460.3 243.1h6.1v6.1h-6.1zM462.6 242.9h6.1v6.1h-6.1zM464.9 242.3h6.1v6.1h-6.1zM467.2 242.8h6.1v6.1h-6.1zM469.5 242.1h6.1v6.1h-6.1zM471.8 242.0h6.1v6.1h-6.1zM474.1 240.8h6.1v6.1h-6.1zM476.4 240.8h6.1v6.1h-6.1zM478.7 239.6h6.1v6.1h-6.1zM481.0 240.1h6.1v6.1h-6.1zM483.3 239.1h6.1v6.1h-6.1zM485.6 238.6h6.1v6.1h-6.1zM487.9 238.0h6.1v6.1h-6.1zM490.2 236.4h6.1v6.1h-6.1zM492.5 237.1h6.1v6.1h-6.1zM494.8 237.4h6.1v6.1h-6.1zM497.1 234.5h6.1v6.1h-6.1zM499.4 234.0h6.1v6.1h-6.1zM501.7 233.8h6.1v6.1h-6.1zM504.0 235.2h6.1v6.1h-6.1zM506.3 234.5h6.1v6.1h-6.1zM508.6 235.0h6.1v6.1h-6.1zM510.9 234.7h6.1v6.1h-6.1zM513.2 234.3h6.1v6.1h-6.1zM515.5 234.5h6.1v6.1h-6.1zM517.8 234.3h6.1v6.1h-6.1zM520.1 235.1h6.1v6.1h-6.1zM522.4 233.7h6.1v6.1h-6.1zM524.7 234.2h6.1v6.1h-6.1zM527.0 234.5h6.1v6.1h-6.1zM529.3 235.4h6.1v6.1h-6.1zM531.6 233.1h6.1v6.1h-6.1zM533.9 232.5h6.1v6.1h-6.1zM536.2 232.5h6.1v6.1h-6.1zM538.5 233.3h6.1v6.1h-6.1zM540.8 232.0h6.1v6.1h-6.1zM543.1 232.4h6.1v6.1h-6.1zM545.4 228.8h6.1v6.1h-6.1zM547.7 230.1h6.1v6.1h-6.1zM550.0 229.4h6.1v6.1h-6.1zM552.3 226.8h6.1v6.1h-6.1zM554.6 227.6h6.1v6.1h-6.1zM556.9 228.0h6.1v6.1h-6.1zM559.2 226.6h6.1v6.1h-6.1zM561.5 227.0h6.1v6.1h-6.1zM563.8 227.8h6.1v6.1h-6.1zM566.1 225.9h6.1v6.1h-6.1zM568.4 225.4h6.1v6.1h-6.1zM570.7 224.8h6.1v6.1h-6.1zM573.0 225.6h6.1v6.1h-6.1zM575.3 224.7h6.1v6.1h-6.1zM577.6 224.7h6.1v6.1h-6.1zM579.9 224.8h6.1v6.1h-6.1zM582.2 225.5h6.1v6.1h-6.1zM584.5 224.3h6.1v6.1h-6.1zM586.8 223.7h6.1v6.1h-6.1zM589.1 222.4h6.1v6.1h-6.1zM591.4 224.6h6.1v6.1h-6.1zM593.7 222.9h6.1v6.1h-6.1zM596.0 223.3h6.1v6.1h-6.1zM598.3 221.3h6.1v6.1h-6.1zM600.6 219.6h6.1v6.1h-6.1zM602.9 219.4h6.1v6.1h-6.1zM605.2 217.7h6.1v6.1h-6.1zM607.5 215.6h6.1v6.1h-6.1zM609.8 215.1h6.1v6.1h-6.1zM612.1 216.4h6.1v6.1h-6.1zM614.4 213.8h6.1v6.1h-6.1zM616.7 212.0h6.1v6.1h-6.1zM619.0 209.0h6.1v6.1h-6.1zM621.3 205.5h6.1v6.1h-6.1zM623.6 203.7h6.1v6.1h-6.1zM625.9 199.0h6.1v6.1h-6.1zM628.2 194.6h6.1v6.1h-6.1zM630.5 191.4h6.1v6.1h-6.1zM632.8 186.6h6.1v6.1h-6.1zM635.1 184.2h6.1v6.1h-6.1zM637.4 182.0h6.1v6.1h-6.1zM639.7 176.5h6.1v6.1h-6.1zM642.0 175.5h6.1v6.1h-6.1zM644.3 168.4h6.1v6.1h-6.1zM646.6 163.9h6.1v6.1h-6.1zM648.9 155.7h6.1v6.1h-6.1zM651.2 147.8h6.1v6.1h-6.1zM653.5 137.6h6.1v6.1h-6.1zM655.8 124.5h6.1v6.1h-6.1zM658.1 110.2h6.1v6.1h-6.1zM660.4 95.2h6.1v6.1h-6.1zM662.7 79.5h6.1v6.1h-6.1zM665.0 63.3h6.1v6.1h-6.1zM667.3 53.1h6.1v6.1h-6.1zM669.6 43.8h6.1v6.1h-6.1zM671.9 36.6h6.1v6.1h-6.1zM674.2 31.2h6.1v6.1h-6.1zM676.5 34.6h6.1v6.1h-6.1zM678.8 30.4h6.1v6.1h-6.1zM681.1 33.1h6.1v6.1h-6.1zM683.4 47.0h6.1v6.1h-6.1zM685.7 51.3h6.1v6.1h-6.1zM688.0 69.9h6.1v6.1h-6.1zM690.3 81.8h6.1v6.1h-6.1zM692.6 101.4h6.1v6.1h-6.1zM694.9 114.4h6.1v6.1h-6.1zM697.2 136.2h6.1v6.1h-6.1zM699.5 150.5h6.1v6.1h-6.1zM701.8 164.3h6.1v6.1h-6.1zM704.1 181.0h6.1v6.1h-6.1zM706.4 191.7h6.1v6.1h-6.1zM708.7 201.3h6.1v6.1h-6.1zM711.0 209.5h6.1v6.1h-6.1zM713.3 217.5h6.1v6.1h-6.1zM715.6 223.4h6.1v6.1h-6.1zM717.9 228.9h6.1v6.1h-6.1zM720.2 232.6h6.1v6.1h-6.1zM722.5 234.5h6.1v6.1h-6.1zM724.8 236.9h6.1v6.1h-6.1zM727.1 238.6h6.1v6.1h-6.1zM729.4 239.4h6.1v6.1h-6.1zM731.7 240.9h6.1v6.1h-6.1zM734.0 242.0h6.1v6.1h-6.1zM736.3 243.1h6.1v6.1h-6.1zM738.6 244.0h6.1v6.1h-6.1zM740.9 242.9h6.1v6.1h-6.1zM743.2 244.1h6.1v6.1h-6.1zM745.5 243.7h6.1v6.1h-6.1zM747.8 245.4h6.1v6.1h-6.1z" fill="#000"/>
<polyline points="438,249.78 439,249.78 440,249.78 441,249.77 442,249.77 443,249.77 444,249.77 445,249.77 446,249.76 447,249.76 448,249.76 449,249.76 450,249.76 451,249.75 452,249.75 453,249.75 454,249.75 455,249.74 456,249.74 457,249.74 458,249.74 459,249.74 460,249.73 461,249.73 462,249.73 463,249.73 464,249.72 465,249.72 466,249.72 467,249.72 468,249.71 469,249.71 470,249.71 471,249.70 472,249.70 473,249.70 474,249.70 475,249.69 476,249.69 477,249.69 478,249.68 479,249.68 480,249.68 481,249.67 482,249.67 483,249.67 484,249.66 485,249.66 486,249.66 487,249.65 488,249.65 489,249.65 490,249.64 491,249.64 492,249.64 493,249.63 494,249.63 495,249.62 496,249.62 497,249.62 498,249.61 499,249.61 500,249.60 501,249.60 502,249.59 503,249.59 504,249.58 505,249.58 506,249.57 507,249.57 508,249.56 509,249.56 510,249.55 511,249.55 512,249.54 513,249.54 514,249.53 515,249.53 516,249.52 517,249.52 518,249.51 519,249.50 520,249.50 521,249.49 522,249.49 523,249.48 524,249.47 525,249.47 526,249.46 527,249.45 528,249.45 529,249.44 530,249.43 531,249.42 532,249.42 533,249.41 534,249.40 535,249.39 536,249.38 537,249.37 538,249.37 539,249.36 540,249.35 541,249.34 542,249.33 543,249.32 544,249.31 545,249.30 546,249.29 547,249.28 548,249.27 549,249.26 550,249.25 551,249.23 552,249.22 553,249.21 554,249.20 555,249.19 556,249.17 557,249.16 558,249.15 559,249.13 560,249.12 561,249.10 562,249.09 563,249.07 564,249.06 565,249.04 566,249.03 567,249.01 568,248.99 569,248.97 570,248.96 571,248.94 572,248.92 573,248.90 574,248.88 575,248.86 576,248.84 577,248.82 578,248.79 579,248.77 580,248.75 581,248.72 582,248.70 583,248.67 584,248.64 585,248.62 586,248.59 587,248.56 588,248.53 589,248.50 590,248.47 591,248.43 592,248.40 593,248.36 594,248.33 595,248.29 596,248.25 597,248.21 598,248.17 599,248.12 600,248.08 601,248.03 602,247.98 603,247.93 604,247.88 605,247.82 606,247.77 607,247.71 608,247.64 609,247.57 610,247.50 611,247.42 612,247.34 613,247.25 614,247.16 615,247.06 616,246.95 617,246.82 618,246.69 619,246.54 620,246.38 621,246.20 622,245.99 623,245.76 624,245.50 625,245.21 626,244.89 627,244.51 628,244.09 629,243.62 630,243.07 631,242.46 632,241.77 633,240.98 634,240.09 635,239.09 636,237.96 637,236.70 638,235.28 639,233.69 640,231.93 641,229.97 642,227.79 643,225.39 644,222.75 645,219.85 646,216.69 647,213.24 648,209.50 649,205.46 650,201.12 651,196.46 652,191.49 653,186.20 654,180.60 655,174.71 656,168.53 657,162.07 658,155.36 659,148.43 660,141.30 661,134.00 662,126.58 663,119.08 664,111.53 665,104.00 666,96.54 667,89.20 668,82.04 669,75.13 670,68.52 671,62.29 672,56.50 673,51.20 674,46.47 675,42.35 676,38.91 677,36.18 678,34.20 679,33.00 680,32.60 681,32.99 682,34.17 683,36.10 684,38.77 685,42.14 686,46.15 687,50.76 688,55.91 689,61.53 690,67.58 691,73.97 692,80.65 693,87.57 694,94.65 695,101.85 696,109.11 697,116.38 698,123.62 699,130.78 700,137.83 701,144.73 702,151.45 703,157.96 704,164.25 705,170.28 706,176.06 707,181.56 708,186.77 709,191.70 710,196.34 711,200.70 712,204.76 713,208.54 714,212.05 715,215.30 716,218.29 717,221.04 718,223.55 719,225.85 720,227.94 721,229.84 722,231.56 723,233.11 724,234.51 725,235.77 726,236.90 727,237.92 728,238.83 729,239.64 730,240.37 731,241.02 732,241.61 733,242.13 734,242.59 735,243.01 736,243.39 737,243.72 738,244.03 739,244.30 740,244.55 741,244.78 742,244.99 743,245.18 744,245.35 745,245.51 746,245.66 747,245.80 748,245.93 749,246.05 750,246.17 751,246.28 752,246.38" fill="none" stroke="#e81c1c" stroke-width="1.5"/>
<polyline points="438,249.98 439,249.98 440,249.98 441,249.98 442,249.98 443,249.98 444,249.98 445,249.98 446,249.98 447,249.98 448,249.98 449,249.98 450,249.98 451,249.98 452,249.98 453,249.98 454,249.98 455,249.97 456,249.97 457,249.97 458,249.97 459,249.97 460,249.97 461,249.97 462,249.97 463,249.97 464,249.97 465,249.97 466,249.97 467,249.97 468,249.97 469,249.97 470,249.97 471,249.97 472,249.97 473,249.97 474,249.97 475,249.97 476,249.97 477,249.97 478,249.97 479,249.96 480,249.96 481,249.96 482,249.96 483,249.96 484,249.96 485,249.96 486,249.96 487,249.96 488,249.96 489,249.96 490,249.96 491,249.96 492,249.96 493,249.96 494,249.96 495,249.95 496,249.95 497,249.95 498,249.95 499,249.95 500,249.95 501,249.95 502,249.95 503,249.95 504,249.95 505,249.95 506,249.94 507,249.94 508,249.94 509,249.94 510,249.94 511,249.94 512,249.94 513,249.94 514,249.93 515,249.93 516,249.93 517,249.93 518,249.93 519,249.93 520,249.93 521,249.92 522,249.92 523,249.92 524,249.92 525,249.92 526,249.92 527,249.91 528,249.91 529,249.91 530,249.91 531,249.90 532,249.90 533,249.90 534,249.90 535,249.89 536,249.89 537,249.89 538,249.88 539,249.88 540,249.88 541,249.87 542,249.87 543,249.86 544,249.86 545,249.85 546,249.85 547,249.84 548,249.83 549,249.82 550,249.82 551,249.80 552,249.79 553,249.78 554,249.76 555,249.74 556,249.72 557,249.69 558,249.67 559,249.63 560,249.59 561,249.55 562,249.50 563,249.44 564,249.37 565,249.29 566,249.20 567,249.10 568,248.98 569,248.85 570,248.70 571,248.54 572,248.35 573,248.15 574,247.92 575,247.67 576,247.39 577,247.09 578,246.76 579,246.41 580,246.02 581,245.61 582,245.17 583,244.70 584,244.21 585,243.69 586,243.14 587,242.57 588,241.99 589,241.39 590,240.77 591,240.15 592,239.52 593,238.90 594,238.28 595,237.67 596,237.07 597,236.50 598,235.95 599,235.44 600,234.97 601,234.55 602,234.17 603,233.85 604,233.59 605,233.40 606,233.27 607,233.21 608,233.21 609,233.29 610,233.43 611,233.64 612,233.91 613,234.24 614,234.63 615,235.06 616,235.54 617,236.06 618,236.61 619,237.19 620,237.79 621,238.40 622,239.02 623,239.65 624,240.28 625,240.90 626,241.51 627,242.11 628,242.69 629,243.25 630,243.79 631,244.31 632,244.80 633,245.26 634,245.70 635,246.10 636,246.48 637,246.83 638,247.15 639,247.45 640,247.72 641,247.97 642,248.19 643,248.39 644,248.57 645,248.73 646,248.88 647,249.01 648,249.12 649,249.22 650,249.31 651,249.38 652,249.45 653,249.51 654,249.56 655,249.60 656,249.64 657,249.67 658,249.70 659,249.72 660,249.75 661,249.76 662,249.78 663,249.79 664,249.81 665,249.82 666,249.83 667,249.83 668,249.84 669,249.85 670,249.86 671,249.86 672,249.87 673,249.87 674,249.87 675,249.88 676,249.88 677,249.89 678,249.89 679,249.89 680,249.89 681,249.90 682,249.90 683,249.90 684,249.90 685,249.91 686,249.91 687,249.91 688,249.91 689,249.92 690,249.92 691,249.92 692,249.92 693,249.92 694,249.92 695,249.93 696,249.93 697,249.93 698,249.93 699,249.93 700,249.93 701,249.94 702,249.94 703,249.94 704,249.94 705,249.94 706,249.94 707,249.94 708,249.94 709,249.94 710,249.95 711,249.95 712,249.95 713,249.95 714,249.95 715,249.95 716,249.95 717,249.95 718,249.95 719,249.95 720,249.95 721,249.96 722,249.96 723,249.96 724,249.96 725,249.96 726,249.96 727,249.96 728,249.96 729,249.96 730,249.96 731,249.96 732,249.96 733,249.96 734,249.96 735,249.96 736,249.97 737,249.97 738,249.97 739,249.97 740,249.97 741,249.97 742,249.97 743,249.97 744,249.97 745,249.97 746,249.97 747,249.97 748,249.97 749,249.97 750,249.97 751,249.97 752,249.97" fill="none" stroke="#1414c8" stroke-width="1.5"/>
<polyline points="438,249.99 439,249.99 440,249.99 441,249.99 442,249.99 443,249.99 444,249.99 445,249.99 446,249.99 447,249.99 448,249.99 449,249.99 450,249.99 451,249.99 452,249.99 453,249.99 454,249.99 455,249.99 456,249.99 457,249.99 458,249.99 459,249.99 460,249.99 461,249.99 462,249.98 463,249.98 464,249.98 465,249.98 466,249.98 467,249.98 468,249.98 469,249.98 470,249.98 471,249.98 472,249.98 473,249.98 474,249.98 475,249.98 476,249.98 477,249.98 478,249.98 479,249.98 480,249.98 481,249.98 482,249.98 483,249.98 484,249.98 485,249.98 486,249.98 487,249.98 488,249.98 489,249.98 490,249.98 491,249.98 492,249.98 493,249.98 494,249.98 495,249.98 496,249.98 497,249.98 498,249.98 499,249.98 500,249.98 501,249.98 502,249.98 503,249.97 504,249.97 505,249.97 506,249.97 507,249.97 508,249.97 509,249.97 510,249.97 511,249.97 512,249.97 513,249.97 514,249.97 515,249.97 516,249.97 517,249.97 518,249.97 519,249.97 520,249.97 521,249.97 522,249.97 523,249.97 524,249.96 525,249.96 526,249.96 527,249.96 528,249.96 529,249.96 530,249.96 531,249.96 532,249.96 533,249.96 534,249.96 535,249.96 536,249.96 537,249.96 538,249.95 539,249.95 540,249.95 541,249.95 542,249.95 543,249.95 544,249.95 545,249.95 546,249.95 547,249.95 548,249.94 549,249.94 550,249.94 551,249.94 552,249.94 553,249.94 554,249.94 555,249.93 556,249.93 557,249.93 558,249.93 559,249.93 560,249.93 561,249.92 562,249.92 563,249.92 564,249.92 565,249.92 566,249.91 567,249.91 568,249.91 569,249.91 570,249.90 571,249.90 572,249.90 573,249.90 574,249.89 575,249.89 576,249.89 577,249.88 578,249.88 579,249.87 580,249.87 581,249.86 582,249.86 583,249.85 584,249.84 585,249.83 586,249.82 587,249.81 588,249.79 589,249.77 590,249.75 591,249.72 592,249.69 593,249.65 594,249.61 595,249.55 596,249.48 597,249.40 598,249.30 599,249.19 600,249.05 601,248.89 602,248.69 603,248.47 604,248.21 605,247.90 606,247.55 607,247.15 608,246.69 609,246.18 610,245.59 611,244.93 612,244.20 613,243.40 614,242.51 615,241.54 616,240.49 617,239.36 618,238.15 619,236.86 620,235.51 621,234.09 622,232.62 623,231.11 624,229.57 625,228.02 626,226.46 627,224.92 628,223.42 629,221.97 630,220.59 631,219.31 632,218.13 633,217.08 634,216.17 635,215.42 636,214.84 637,214.44 638,214.23 639,214.22 640,214.43 641,214.86 642,215.50 643,216.34 644,217.36 645,218.54 646,219.84 647,221.26 648,222.76 649,224.31 650,225.90 651,227.51 652,229.12 653,230.70 654,232.25 655,233.75 656,235.19 657,236.56 658,237.86 659,239.07 660,240.20 661,241.24 662,242.20 663,243.07 664,243.85 665,244.56 666,245.20 667,245.76 668,246.26 669,246.70 670,247.08 671,247.41 672,247.71 673,247.96 674,248.17 675,248.36 676,248.52 677,248.66 678,248.77 679,248.87 680,248.96 681,249.04 682,249.10 683,249.16 684,249.21 685,249.25 686,249.29 687,249.32 688,249.35 689,249.38 690,249.41 691,249.43 692,249.45 693,249.47 694,249.49 695,249.51 696,249.52 697,249.54 698,249.55 699,249.57 700,249.58 701,249.59 702,249.61 703,249.62 704,249.63 705,249.64 706,249.65 707,249.66 708,249.67 709,249.68 710,249.69 711,249.69 712,249.70 713,249.71 714,249.72 715,249.72 716,249.73 717,249.74 718,249.74 719,249.75 720,249.76 721,249.76 722,249.77 723,249.77 724,249.78 725,249.78 726,249.79 727,249.79 728,249.80 729,249.80 730,249.80 731,249.81 732,249.81 733,249.82 734,249.82 735,249.82 736,249.83 737,249.83 738,249.83 739,249.84 740,249.84 741,249.84 742,249.85 743,249.85 744,249.85 745,249.85 746,249.86 747,249.86 748,249.86 749,249.87 750,249.87 751,249.87 752,249.87" fill="none" stroke="#1ed21e" stroke-width="1.5"/>
<polyline points="438,250.00 439,250.00 440,250.00 441,250.00 442,250.00 443,250.00 444,250.00 445,250.00 446,250.00 447,250.00 448,250.00 449,250.00 450,250.00 451,250.00 452,250.00 453,250.00 454,250.00 455,250.00 456,250.00 457,250.00 458,250.00 459,250.00 460,250.00 461,250.00 462,250.00 463,250.00 464,250.00 465,250.00 466,250.00 467,250.00 468,250.00 469,250.00 470,250.00 471,250.00 472,250.00 473,250.00 474,250.00 475,250.00 476,250.00 477,250.00 478,250.00 479,250.00 480,249.99 481,249.99 482,249.99 483,249.99 484,249.99 485,249.99 486,249.98 487,249.98 488,249.97 489,249.97 490,249.96 491,249.96 492,249.95 493,249.94 494,249.93 495,249.92 496,249.90 497,249.88 498,249.86 499,249.84 500,249.82 501,249.79 502,249.75 503,249.71 504,249.67 505,249.62 506,249.56 507,249.50 508,249.43 509,249.35 510,249.26 511,249.16 512,249.05 513,248.93 514,248.79 515,248.65 516,248.48 517,248.31 518,248.11 519,247.90 520,247.67 521,247.42 522,247.16 523,246.87 524,246.56 525,246.23 526,245.88 527,245.51 528,245.11 529,244.70 530,244.26 531,243.80 532,243.32 533,242.82 534,242.30 535,241.77 536,241.22 537,240.65 538,240.08 539,239.49 540,238.89 541,238.29 542,237.69 543,237.09 544,236.49 545,235.89 546,235.31 547,234.74 548,234.18 549,233.65 550,233.14 551,232.65 552,232.20 553,231.77 554,231.38 555,231.03 556,230.72 557,230.45 558,230.23 559,230.05 560,229.92 561,229.84 562,229.80 563,229.82 564,229.88 565,229.99 566,230.15 567,230.36 568,230.61 569,230.90 570,231.24 571,231.61 572,232.02 573,232.47 574,232.94 575,233.44 576,233.97 577,234.51 578,235.08 579,235.66 580,236.25 581,236.85 582,237.45 583,238.05 584,238.65 585,239.25 586,239.84 587,240.42 588,240.99 589,241.55 590,242.09 591,242.62 592,243.12 593,243.61 594,244.08 595,244.52 596,244.95 597,245.35 598,245.73 599,246.09 600,246.43 601,246.75 602,247.04 603,247.32 604,247.58 605,247.81 606,248.03 607,248.23 608,248.42 609,248.58 610,248.74 611,248.88 612,249.00 613,249.12 614,249.22 615,249.31 616,249.40 617,249.47 618,249.54 619,249.60 620,249.65 621,249.70 622,249.74 623,249.77 624,249.80 625,249.83 626,249.86 627,249.88 628,249.89 629,249.91 630,249.92 631,249.94 632,249.95 633,249.95 634,249.96 635,249.97 636,249.97 637,249.98 638,249.98 639,249.98 640,249.99 641,249.99 642,249.99 643,249.99 644,249.99 645,250.00 646,250.00 647,250.00 648,250.00 649,250.00 650,250.00 651,250.00 652,250.00 653,250.00 654,250.00 655,250.00 656,250.00 657,250.00 658,250.00 659,250.00 660,250.00 661,250.00 662,250.00 663,250.00 664,250.00 665,250.00 666,250.00 667,250.00 668,250.00 669,250.00 670,250.00 671,250.00 672,250.00 673,250.00 674,250.00 675,250.00 676,250.00 677,250.00 678,250.00 679,250.00 680,250.00 681,250.00 682,250.00 683,250.00 684,250.00 685,250.00 686,250.00 687,250.00 688,250.00 689,250.00 690,250.00 691,250.00 692,250.00 693,250.00 694,250.00 695,250.00 696,250.00 697,250.00 698,250.00 699,250.00 700,250.00 701,250.00 702,250.00 703,250.00 704,250.00 705,250.00 706,250.00 707,250.00 708,250.00 709,250.00 710,250.00 711,250.00 712,250.00 713,250.00 714,250.00 715,250.00 716,250.00 717,250.00 718,250.00 719,250.00 720,250.00 721,250.00 722,250.00 723,250.00 724,250.00 725,250.00 726,250.00 727,250.00 728,250.00 729,250.00 730,250.00 731,250.00 732,250.00 733,250.00 734,250.00 735,250.00 736,250.00 737,250.00 738,250.00 739,250.00 740,250.00 741,250.00 742,250.00 743,250.00 744,250.00 745,250.00 746,250.00 747,250.00 748,250.00 749,250.00 750,250.00 751,250.00 752,250.00" fill="none" stroke="#14dcdc" stroke-width="1.5"/>
<polyline points="438,249.98 439,249.98 440,249.98 441,249.97 442,249.97 443,249.96 444,249.96 445,249.95 446,249.94 447,249.93 448,249.91 449,249.90 450,249.88 451,249.87 452,249.84 453,249.82 454,249.79 455,249.76 456,249.73 457,249.69 458,249.65 459,249.60 460,249.54 461,249.48 462,249.42 463,249.34 464,249.26 465,249.17 466,249.08 467,248.97 468,248.86 469,248.74 470,248.61 471,248.46 472,248.31 473,248.15 474,247.98 475,247.79 476,247.60 477,247.40 478,247.19 479,246.96 480,246.73 481,246.49 482,246.25 483,245.99 484,245.73 485,245.47 486,245.20 487,244.93 488,244.65 489,244.38 490,244.11 491,243.84 492,243.58 493,243.32 494,243.07 495,242.83 496,242.60 497,242.38 498,242.18 499,241.99 500,241.83 501,241.67 502,241.54 503,241.43 504,241.34 505,241.27 506,241.23 507,241.20 508,241.20 509,241.23 510,241.27 511,241.34 512,241.43 513,241.54 514,241.67 515,241.83 516,241.99 517,242.18 518,242.38 519,242.60 520,242.83 521,243.07 522,243.32 523,243.58 524,243.84 525,244.11 526,244.38 527,244.65 528,244.93 529,245.20 530,245.47 531,245.73 532,245.99 533,246.25 534,246.49 535,246.73 536,246.96 537,247.19 538,247.40 539,247.60 540,247.79 541,247.98 542,248.15 543,248.31 544,248.46 545,248.61 546,248.74 547,248.86 548,248.97 549,249.08 550,249.17 551,249.26 552,249.34 553,249.42 554,249.48 555,249.54 556,249.60 557,249.65 558,249.69 559,249.73 560,249.76 561,249.79 562,249.82 563,249.84 564,249.87 565,249.88 566,249.90 567,249.91 568,249.93 569,249.94 570,249.95 571,249.96 572,249.96 573,249.97 574,249.97 575,249.98 576,249.98 577,249.98 578,249.99 579,249.99 580,249.99 581,249.99 582,249.99 583,249.99 584,250.00 585,250.00 586,250.00 587,250.00 588,250.00 589,250.00 590,250.00 591,250.00 592,250.00 593,250.00 594,250.00 595,250.00 596,250.00 597,250.00 598,250.00 599,250.00 600,250.00 601,250.00 602,250.00 603,250.00 604,250.00 605,250.00 606,250.00 607,250.00 608,250.00 609,250.00 610,250.00 611,250.00 612,250.00 613,250.00 614,250.00 615,250.00 616,250.00 617,250.00 618,250.00 619,250.00 620,250.00 621,250.00 622,250.00 623,250.00 624,250.00 625,250.00 626,250.00 627,250.00 628,250.00 629,250.00 630,250.00 631,250.00 632,250.00 633,250.00 634,250.00 635,250.00 636,250.00 637,250.00 638,250.00 639,250.00 640,250.00 641,250.00 642,250.00 643,250.00 644,250.00 645,250.00 646,250.00 647,250.00 648,250.00 649,250.00 650,250.00 651,250.00 652,250.00 653,250.00 654,250.00 655,250.00 656,250.00 657,250.00 658,250.00 659,250.00 660,250.00 661,250.00 662,250.00 663,250.00 664,250.00 665,250.00 666,250.00 667,250.00 668,250.00 669,250.00 670,250.00 671,250.00 672,250.00 673,250.00 674,250.00 675,250.00 676,250.00 677,250.00 678,250.00 679,250.00 680,250.00 681,250.00 682,250.00 683,250.00 684,250.00 685,250.00 686,250.00 687,250.00 688,250.00 689,250.00 690,250.00 691,250.00 692,250.00 693,250.00 694,250.00 695,250.00 696,250.00 697,250.00 698,250.00 699,250.00 700,250.00 701,250.00 702,250.00 703,250.00 704,250.00 705,250.00 706,250.00 707,250.00 708,250.00 709,250.00 710,250.00 711,250.00 712,250.00 713,250.00 714,250.00 715,250.00 716,250.00 717,250.00 718,250.00 719,250.00 720,250.00 721,250.00 722,250.00 723,250.00 724,250.00 725,250.00 726,250.00 727,250.00 728,250.00 729,250.00 730,250.00 731,250.00 732,250.00 733,250.00 734,250.00 735,250.00 736,250.00 737,250.00 738,250.00 739,250.00 740,250.00 741,250.00 742,250.00 743,250.00 744,250.00 745,250.00 746,250.00 747,250.00 748,250.00 749,250.00 750,250.00 751,250.00 752,250.00" fill="none" stroke="#dc14d2" stroke-width="1.5"/>
<rect x="438" y="249.1" width="314" height="1.7" fill="#8a1492" opacity="0.9"/>
<polyline points="438,249.33 439,249.37 440,249.40 441,249.44 442,249.47 443,249.50 444,249.53 445,249.55 446,249.57 447,249.59 448,249.61 449,249.62 450,249.63 451,249.64 452,249.64 453,249.64 454,249.63 455,249.62 456,249.61 457,249.59 458,249.56 459,249.53 460,249.49 461,249.45 462,249.39 463,249.33 464,249.27 465,249.19 466,249.10 467,249.01 468,248.90 469,248.79 470,248.66 471,248.53 472,248.38 473,248.22 474,248.06 475,247.88 476,247.69 477,247.48 478,247.27 479,247.05 480,246.82 481,246.58 482,246.33 483,246.07 484,245.81 485,245.54 486,245.27 487,244.99 488,244.71 489,244.43 490,244.15 491,243.87 492,243.59 493,243.32 494,243.06 495,242.80 496,242.55 497,242.31 498,242.08 499,241.87 500,241.67 501,241.47 502,241.28 503,241.09 504,240.91 505,240.73 506,240.57 507,240.41 508,240.26 509,240.12 510,240.00 511,239.89 512,239.79 513,239.70 514,239.62 515,239.56 516,239.51 517,239.46 518,239.43 519,239.41 520,239.39 521,239.38 522,239.35 523,239.31 524,239.26 525,239.19 526,239.10 527,238.99 528,238.86 529,238.70 530,238.52 531,238.32 532,238.09 533,237.83 534,237.55 535,237.24 536,236.94 537,236.66 538,236.40 539,236.13 540,235.86 541,235.58 542,235.27 543,234.93 544,234.54 545,234.10 546,233.53 547,232.83 548,232.07 549,231.34 550,230.72 551,230.19 552,229.70 553,229.24 554,228.82 555,228.43 556,228.08 557,227.77 558,227.48 559,227.24 560,227.02 561,226.83 562,226.68 563,226.57 564,226.49 565,226.45 566,226.45 567,226.47 568,226.54 569,226.63 570,226.75 571,226.89 572,227.05 573,227.21 574,227.38 575,227.56 576,227.74 577,227.91 578,228.08 579,228.25 580,228.40 581,228.54 582,228.66 583,228.81 584,229.00 585,229.20 586,229.39 587,229.54 588,229.64 589,229.66 590,229.58 591,229.42 592,229.24 593,229.02 594,228.79 595,228.53 596,228.25 597,227.96 598,227.66 599,227.35 600,227.03 601,226.66 602,226.19 603,225.65 604,225.04 605,224.39 606,223.72 607,223.04 608,222.36 609,221.70 610,221.08 611,220.49 612,219.96 613,219.45 614,218.89 615,218.29 616,217.64 617,216.92 618,216.15 619,215.31 620,214.41 621,213.44 622,212.41 623,211.31 624,210.16 625,208.96 626,207.71 627,206.42 628,205.10 629,203.75 630,202.38 631,201.01 632,199.64 633,198.27 634,196.92 635,195.58 636,194.31 637,193.13 638,192.02 639,190.95 640,189.93 641,188.93 642,187.89 643,186.78 644,185.54 645,184.12 646,182.50 647,180.69 648,178.64 649,176.33 650,173.73 651,170.81 652,167.57 653,163.98 654,160.04 655,155.74 656,151.09 657,146.10 658,140.78 659,135.15 660,129.24 661,123.09 662,116.74 663,110.21 664,103.58 665,96.88 666,90.17 667,83.51 668,76.98 669,70.62 670,64.51 671,58.73 672,53.32 673,48.38 674,43.94 675,40.09 676,36.87 677,34.35 678,32.56 679,31.54 680,31.29 681,31.81 682,33.10 683,35.13 684,37.87 685,41.29 686,45.35 687,49.99 688,55.17 689,60.83 690,66.90 691,73.32 692,80.03 693,86.96 694,94.07 695,101.28 696,108.56 697,115.85 698,123.10 699,130.28 700,137.34 701,144.26 702,150.99 703,157.52 704,163.81 705,169.86 706,175.65 707,181.16 708,186.39 709,191.33 710,195.98 711,200.34 712,204.41 713,208.20 714,211.72 715,214.97 716,217.97 717,220.72 718,223.25 719,225.55 720,227.65 721,229.55 722,231.28 723,232.84 724,234.24 725,235.51 726,236.65 727,237.67 728,238.59 729,239.40 730,240.14 731,240.79 732,241.38 733,241.91 734,242.38 735,242.80 736,243.18 737,243.52 738,243.83 739,244.11 740,244.36 741,244.59 742,244.80 743,245.00 744,245.17 745,245.34 746,245.49 747,245.63 748,245.77 749,245.89 750,246.01 751,246.12 752,246.22" fill="none" stroke="#f4ea10" stroke-width="1.8"/>
</svg></body></html>
